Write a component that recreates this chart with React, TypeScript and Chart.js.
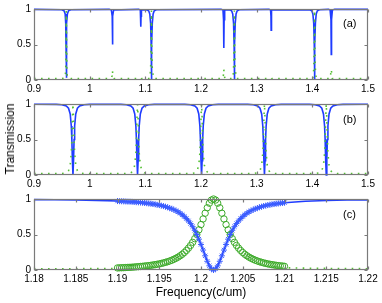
import React, { useEffect, useRef } from 'react';
import { Chart, registerables } from 'chart.js';

Chart.register(...registerables);

// ---------- Panel (a) ----------
const A_BLUE_X = [
  0.9, 0.95, 0.954, 0.956, 0.957, 0.9575, 0.958, 0.9585, 0.959, 0.96, 0.962, 0.966,
  1.035, 1.039, 1.0405, 1.041, 1.0415, 1.043,
  1.088, 1.091, 1.0917, 1.092, 1.0923, 1.093,
  1.102, 1.106, 1.108, 1.1095, 1.1105, 1.111, 1.1115, 1.1125, 1.114, 1.116, 1.12,
  1.236, 1.2395, 1.2405, 1.241, 1.2415, 1.2425,
  1.251, 1.255, 1.257, 1.2585, 1.2595, 1.26, 1.2605, 1.2615, 1.263, 1.265, 1.269,
  1.322, 1.325, 1.3257, 1.326, 1.3263, 1.327,
  1.395, 1.399, 1.401, 1.4025, 1.4035, 1.404, 1.4045, 1.4055, 1.407, 1.409, 1.413,
  1.429, 1.432, 1.4335, 1.434, 1.4345, 1.436, 1.44, 1.5,
];
const A_BLUE_Y = [
  0.995, 0.99, 0.975, 0.93, 0.8, 0.5, 0.03, 0.5, 0.8, 0.93, 0.975, 0.99,
  0.995, 0.985, 0.9, 0.5, 0.9, 0.985,
  0.995, 0.985, 0.9, 0.75, 0.9, 0.985,
  0.99, 0.975, 0.93, 0.8, 0.5, 0.0, 0.5, 0.8, 0.93, 0.975, 0.99,
  0.995, 0.985, 0.85, 0.45, 0.85, 0.985,
  0.99, 0.975, 0.93, 0.8, 0.5, 0.0, 0.5, 0.8, 0.93, 0.975, 0.99,
  0.995, 0.985, 0.9, 0.7, 0.9, 0.985,
  0.99, 0.975, 0.93, 0.8, 0.5, 0.0, 0.5, 0.8, 0.93, 0.975, 0.99,
  0.995, 0.985, 0.85, 0.36, 0.85, 0.985, 0.995, 0.995,
];
const A_GREEN_X = [
  0.9, 0.95, 0.956, 0.957, 0.9575, 0.958, 0.9585, 0.959, 0.96, 0.966,
  1.038, 1.0405, 1.041, 1.0415, 1.044,
  1.091, 1.092, 1.093,
  1.108, 1.1095, 1.1105, 1.111, 1.1115, 1.1125, 1.115,
  1.239, 1.2405, 1.241, 1.2415, 1.243,
  1.2575, 1.2585, 1.2595, 1.26, 1.2605, 1.2615, 1.2635,
  1.325, 1.326, 1.327,
  1.401, 1.4025, 1.4035, 1.404, 1.4045, 1.4055, 1.407,
  1.432, 1.434, 1.436, 1.5,
];
const A_GREEN_Y = [
  0.02, 0.02, 0.03, 0.15, 0.5, 0.97, 0.5, 0.15, 0.03, 0.02,
  0.02, 0.06, 0.13, 0.06, 0.02,
  0.02, 0.03, 0.02,
  0.02, 0.15, 0.5, 0.98, 0.5, 0.15, 0.02,
  0.02, 0.08, 0.15, 0.08, 0.02,
  0.02, 0.15, 0.5, 0.98, 0.5, 0.15, 0.02,
  0.02, 0.03, 0.02,
  0.02, 0.15, 0.5, 0.98, 0.5, 0.15, 0.02,
  0.02, 0.15, 0.02, 0.02,
];

// ---------- Panel (b) ----------
const B_BLUE_X = [
  0.9,
  0.94, 0.95, 0.958, 0.962, 0.965, 0.967, 0.968, 0.969, 0.97, 0.971, 0.972, 0.973, 0.975, 0.978, 0.982, 0.99, 1.0,
  1.056, 1.066, 1.074, 1.078, 1.081, 1.083, 1.084, 1.085, 1.086, 1.087, 1.088, 1.089, 1.091, 1.094, 1.098, 1.106, 1.116,
  1.171, 1.181, 1.189, 1.193, 1.196, 1.198, 1.199, 1.2, 1.201, 1.202, 1.203, 1.204, 1.206, 1.209, 1.213, 1.221, 1.231,
  1.284, 1.294, 1.302, 1.306, 1.309, 1.311, 1.312, 1.313, 1.314, 1.315, 1.316, 1.317, 1.319, 1.322, 1.326, 1.334, 1.344,
  1.395, 1.405, 1.413, 1.417, 1.42, 1.422, 1.423, 1.424, 1.425, 1.426, 1.427, 1.428, 1.43, 1.433, 1.437, 1.445, 1.455,
  1.5,
];
const B_BLUE_Y = [
  0.996,
  0.995, 0.99, 0.973, 0.94, 0.86, 0.69, 0.5, 0.2, 0.0, 0.2, 0.5, 0.69, 0.86, 0.94, 0.973, 0.99, 0.995,
  0.995, 0.99, 0.973, 0.94, 0.86, 0.69, 0.5, 0.2, 0.0, 0.2, 0.5, 0.69, 0.86, 0.94, 0.973, 0.99, 0.995,
  0.995, 0.99, 0.973, 0.94, 0.86, 0.69, 0.5, 0.2, 0.0, 0.2, 0.5, 0.69, 0.86, 0.94, 0.973, 0.99, 0.995,
  0.995, 0.99, 0.973, 0.94, 0.86, 0.69, 0.5, 0.2, 0.0, 0.2, 0.5, 0.69, 0.86, 0.94, 0.973, 0.99, 0.995,
  0.995, 0.99, 0.973, 0.94, 0.86, 0.69, 0.5, 0.2, 0.0, 0.2, 0.5, 0.69, 0.86, 0.94, 0.973, 0.99, 0.995,
  0.996,
];
const B_GREEN_X = [
  0.9,
  0.95, 0.958, 0.962, 0.965, 0.967, 0.968, 0.969, 0.97, 0.971, 0.972, 0.973, 0.975, 0.978, 0.982, 0.99,
  1.066, 1.074, 1.078, 1.081, 1.083, 1.084, 1.085, 1.086, 1.087, 1.088, 1.089, 1.091, 1.094, 1.098, 1.106,
  1.181, 1.189, 1.193, 1.196, 1.198, 1.199, 1.2, 1.201, 1.202, 1.203, 1.204, 1.206, 1.209, 1.213, 1.221,
  1.294, 1.302, 1.306, 1.309, 1.311, 1.312, 1.313, 1.314, 1.315, 1.316, 1.317, 1.319, 1.322, 1.326, 1.334,
  1.405, 1.413, 1.417, 1.42, 1.422, 1.423, 1.424, 1.425, 1.426, 1.427, 1.428, 1.43, 1.433, 1.437, 1.445,
  1.5,
];
const B_GREEN_Y = [
  0.02,
  0.02, 0.03, 0.06, 0.14, 0.31, 0.5, 0.8, 1.0, 0.8, 0.5, 0.31, 0.14, 0.06, 0.03, 0.02,
  0.02, 0.03, 0.06, 0.14, 0.31, 0.5, 0.8, 1.0, 0.8, 0.5, 0.31, 0.14, 0.06, 0.03, 0.02,
  0.02, 0.03, 0.06, 0.14, 0.31, 0.5, 0.8, 1.0, 0.8, 0.5, 0.31, 0.14, 0.06, 0.03, 0.02,
  0.02, 0.03, 0.06, 0.14, 0.31, 0.5, 0.8, 1.0, 0.8, 0.5, 0.31, 0.14, 0.06, 0.03, 0.02,
  0.02, 0.03, 0.06, 0.14, 0.31, 0.5, 0.8, 1.0, 0.8, 0.5, 0.31, 0.14, 0.06, 0.03, 0.02,
  0.02,
];

// ---------- Panel (c) ----------
const C_X = [
  1.19, 1.19025, 1.1905, 1.19075, 1.191, 1.19125, 1.1915, 1.19175, 1.192, 1.19225,
  1.1925, 1.19275, 1.193, 1.19325, 1.1935, 1.19375, 1.194, 1.19425, 1.1945, 1.19475,
  1.195, 1.19525, 1.1955, 1.19575, 1.196, 1.19625, 1.1965, 1.19675, 1.197, 1.19725,
  1.1975, 1.19775, 1.198, 1.19825, 1.1985, 1.19875, 1.199, 1.19925, 1.1995, 1.19975,
  1.2, 1.20025, 1.2005, 1.20075, 1.201, 1.20125, 1.2015, 1.20175, 1.202, 1.20225,
  1.2025, 1.20275, 1.203, 1.20325, 1.2035, 1.20375, 1.204, 1.20425, 1.2045, 1.20475,
  1.205, 1.20525, 1.2055, 1.20575, 1.206, 1.20625, 1.2065, 1.20675, 1.207, 1.20725,
  1.2075, 1.20775, 1.208, 1.20825, 1.2085, 1.20875, 1.209, 1.20925, 1.2095, 1.20975,
  1.21,
];
const C_BLUE = [
  0.971, 0.969, 0.968, 0.967, 0.965, 0.963, 0.962, 0.96, 0.958, 0.955,
  0.953, 0.95, 0.948, 0.944, 0.941, 0.938, 0.934, 0.929, 0.925, 0.919,
  0.914, 0.907, 0.9, 0.892, 0.883, 0.873, 0.862, 0.849, 0.835, 0.819,
  0.8, 0.779, 0.754, 0.725, 0.692, 0.654, 0.61, 0.559, 0.5, 0.434,
  0.36, 0.281, 0.2, 0.123, 0.059, 0.015, 0.0, 0.015, 0.059, 0.123,
  0.2, 0.281, 0.36, 0.434, 0.5, 0.559, 0.61, 0.654, 0.692, 0.725,
  0.754, 0.779, 0.8, 0.819, 0.835, 0.849, 0.862, 0.873, 0.883, 0.892,
  0.9, 0.907, 0.914, 0.919, 0.925, 0.929, 0.934, 0.938, 0.941, 0.944,
  0.948,
];
const C_GREEN = [
  0.029, 0.031, 0.032, 0.033, 0.035, 0.037, 0.038, 0.04, 0.042, 0.045,
  0.047, 0.05, 0.052, 0.056, 0.059, 0.062, 0.066, 0.071, 0.075, 0.081,
  0.086, 0.093, 0.1, 0.108, 0.117, 0.127, 0.138, 0.151, 0.165, 0.181,
  0.2, 0.221, 0.246, 0.275, 0.308, 0.346, 0.39, 0.441, 0.5, 0.566,
  0.64, 0.719, 0.8, 0.877, 0.941, 0.985, 1.0, 0.985, 0.941, 0.877,
  0.8, 0.719, 0.64, 0.566, 0.5, 0.441, 0.39, 0.346, 0.308, 0.275,
  0.246, 0.221, 0.2, 0.181, 0.165, 0.151, 0.138, 0.127, 0.117, 0.108,
  0.1, 0.093, 0.086, 0.081, 0.075, 0.071, 0.066, 0.062, 0.059, 0.056,
  0.052,
];
const C_LEFT_X = [1.18, 1.1825, 1.185, 1.1875];
const C_LEFT_BLUE = [0.991, 0.989, 0.986, 0.98];
const C_RIGHT_X = [1.2125, 1.215, 1.2175, 1.22];
const C_RIGHT_BLUE = [0.968, 0.979, 0.985, 0.988];
const C_GREEN_L_X = [1.18, 1.185, 1.1895];
const C_GREEN_L_Y = [0.015, 0.018, 0.022];
const C_GREEN_R_X = [1.2105, 1.215, 1.22];
const C_GREEN_R_Y = [0.03, 0.022, 0.018];

// ---------- Ticks & labels ----------
const AB_X_RANGE = [0.9, 1.5, 0.1];
const C_X_RANGE = [1.18, 1.22, 0.005];
const Y_RANGE = [0, 1, 0.5];
const PANEL_TAGS = ['(a)', '(b)', '(c)'];
const X_TITLE = 'Frequency(c/um)';
const Y_TITLE = 'Transmission';

const FONT = "'Liberation Sans', Arial, Helvetica, sans-serif";
const BLUE = '#1f3cff';
const BLUE_MARK = '#3a5cff';
const GREEN = '#3daa2a';
const GREEN_DOT = '#55c033';

const zip = (xs: number[], ys: number[]) => xs.map((x, i) => ({ x, y: ys[i] }));
const fmt = (v: any) => String(Number(Number(v).toFixed(4)));

const boxPlugin = {
  id: 'matlabBox',
  afterDatasetsDraw(chart: any) {
    const { ctx, chartArea, scales } = chart;
    const l = Math.round(chartArea.left) + 0.5;
    const r = Math.round(chartArea.right) - 0.5;
    const t = Math.round(chartArea.top) + 0.5;
    const b = Math.round(chartArea.bottom) - 0.5;
    ctx.save();
    ctx.strokeStyle = '#7a7a7a';
    ctx.lineWidth = 1.2;
    ctx.strokeRect(l, t, r - l, b - t);
    const len = 3;
    ctx.beginPath();
    scales.x.ticks.forEach((tk: any) => {
      const px = Math.round(scales.x.getPixelForValue(tk.value)) + 0.5;
      ctx.moveTo(px, b);
      ctx.lineTo(px, b - len);
      ctx.moveTo(px, t);
      ctx.lineTo(px, t + len);
    });
    scales.y.ticks.forEach((tk: any) => {
      const py = Math.round(scales.y.getPixelForValue(tk.value)) + 0.5;
      ctx.moveTo(l, py);
      ctx.lineTo(l + len, py);
      ctx.moveTo(r, py);
      ctx.lineTo(r - len, py);
    });
    ctx.stroke();
    ctx.restore();
  },
};

function makeConfig(datasets: any[], xr: number[], bottomPad: number) {
  return {
    type: 'scatter',
    data: { datasets },
    plugins: [boxPlugin],
    options: {
      animation: false,
      responsive: false,
      devicePixelRatio: 1,
      events: [],
      layout: { padding: { left: 0, right: 14, top: 9, bottom: bottomPad } },
      plugins: { legend: { display: false }, tooltip: { enabled: false } },
      scales: {
        x: {
          type: 'linear',
          min: xr[0],
          max: xr[1],
          grid: { display: false, drawTicks: false },
          border: { display: false },
          ticks: {
            stepSize: xr[2],
            autoSkip: false,
            maxRotation: 0,
            padding: 3,
            color: '#000',
            font: { family: FONT, size: 10 },
            callback: fmt,
          },
          afterFit: (s: any) => {
            s.height = 15;
          },
        },
        y: {
          type: 'linear',
          min: Y_RANGE[0],
          max: Y_RANGE[1],
          grid: { display: false, drawTicks: false },
          border: { display: false },
          ticks: {
            stepSize: Y_RANGE[2],
            padding: 3,
            color: '#000',
            font: { family: FONT, size: 10 },
            callback: fmt,
          },
          afterFit: (s: any) => {
            s.width = 34;
          },
        },
      },
    },
  };
}

const lineDs = (data: any[], color: string, width: number) => ({
  data,
  showLine: true,
  borderColor: color,
  borderWidth: width,
  pointRadius: 0,
  tension: 0,
  clip: false,
});
const dotDs = (data: any[]) => ({
  data,
  showLine: true,
  borderColor: GREEN_DOT,
  borderWidth: 1.6,
  borderDash: [1.6, 5.4],
  pointRadius: 0,
  tension: 0,
  clip: false,
});

function buildA() {
  return makeConfig(
    [dotDs(zip(A_GREEN_X, A_GREEN_Y)), lineDs(zip(A_BLUE_X, A_BLUE_Y), BLUE, 1.6)],
    AB_X_RANGE,
    0
  );
}
function buildB() {
  return makeConfig(
    [dotDs(zip(B_GREEN_X, B_GREEN_Y)), lineDs(zip(B_BLUE_X, B_BLUE_Y), BLUE, 1.6)],
    AB_X_RANGE,
    0
  );
}
function buildC() {
  const blueLine = zip(
    [...C_LEFT_X, ...C_X, ...C_RIGHT_X],
    [...C_LEFT_BLUE, ...C_BLUE, ...C_RIGHT_BLUE]
  );
  return makeConfig(
    [
      {
        data: zip(C_X, C_BLUE),
        showLine: false,
        pointStyle: 'star',
        pointRadius: 3,
        borderColor: BLUE_MARK,
        backgroundColor: BLUE_MARK,
        borderWidth: 1,
        clip: false,
      },
      lineDs(blueLine, BLUE, 1.6),
      {
        data: zip(C_X, C_GREEN),
        showLine: false,
        pointStyle: 'circle',
        pointRadius: 3.2,
        borderColor: GREEN,
        backgroundColor: 'rgba(0,0,0,0)',
        borderWidth: 1,
        clip: false,
      },
      dotDs(zip(C_GREEN_L_X, C_GREEN_L_Y)),
      dotDs(zip(C_GREEN_R_X, C_GREEN_R_Y)),
    ],
    C_X_RANGE,
    18
  );
}

function Panel({ top, height, build }: { top: number; height: number; build: () => any }) {
  const ref = useRef<HTMLCanvasElement>(null);
  useEffect(() => {
    const chart = new Chart(ref.current as HTMLCanvasElement, build() as any);
    return () => chart.destroy();
  }, []);
  return (
    <canvas
      ref={ref}
      width={382}
      height={height}
      style={{ position: 'absolute', left: 0, top, width: 382, height, display: 'block' }}
    />
  );
}

const tagStyle = (top: number): React.CSSProperties => ({
  position: 'absolute',
  left: 343,
  top,
  fontFamily: FONT,
  fontSize: 11,
  lineHeight: '12px',
  color: '#000',
});

export default function App() {
  return (
    <div
      style={{
        position: 'fixed',
        left: 0,
        top: 0,
        width: 382,
        height: 303,
        background: '#fff',
        overflow: 'hidden',
      }}
    >
      <Panel top={0} height={95} build={buildA} />
      <Panel top={95} height={95} build={buildB} />
      <Panel top={190} height={113} build={buildC} />
      <div style={tagStyle(17)}>{PANEL_TAGS[0]}</div>
      <div style={tagStyle(113)}>{PANEL_TAGS[1]}</div>
      <div style={tagStyle(208)}>{PANEL_TAGS[2]}</div>
      <div
        style={{
          position: 'absolute',
          left: 34,
          width: 334,
          top: 285,
          textAlign: 'center',
          fontFamily: FONT,
          fontSize: 12,
          lineHeight: '14px',
          color: '#000',
        }}
      >
        {X_TITLE}
      </div>
      <div
        style={{
          position: 'absolute',
          left: 10,
          top: 139,
          width: 0,
          height: 0,
        }}
      >
        <div
          style={{
            position: 'absolute',
            left: 0,
            top: 0,
            transform: 'translate(-50%, -50%) rotate(-90deg)',
            whiteSpace: 'nowrap',
            fontFamily: FONT,
            fontSize: 12,
            lineHeight: '14px',
            color: '#000',
          }}
        >
          {Y_TITLE}
        </div>
      </div>
    </div>
  );
}
